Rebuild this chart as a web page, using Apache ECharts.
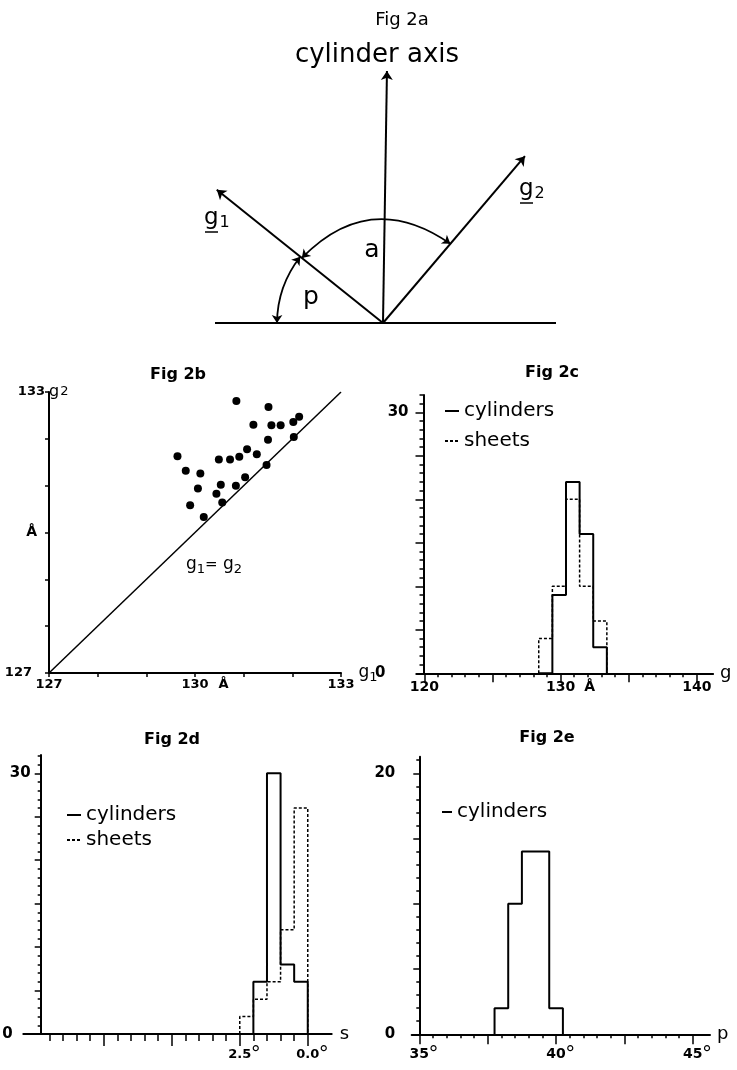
<!DOCTYPE html>
<html>
<head>
<meta charset="utf-8">
<title>Fig 2</title>
<script src="https://cdn.jsdelivr.net/npm/echarts@6.0.0/dist/echarts.min.js"></script>
<style>
html,body{margin:0;padding:0;background:#ffffff;}
#chart{width:737px;height:1070px;}
</style>
</head>
<body>
<div id="chart"></div>
<script>
// ================= DATA =================
// Fig 2b: repeat distances g1, g2 (Å), one point per structure
const g1Values = [130.85,131.51,131.20,131.57,131.76,132.02,132.14,132.03,131.50,131.07,131.27,130.91,130.72,130.49,129.64,129.81,130.11,130.06,129.90,130.18,130.44,130.53,130.56,130.84,131.03,131.47];
const g2Values = [132.81,132.68,132.30,132.29,132.29,132.36,132.47,132.04,131.98,131.78,131.67,131.62,131.56,131.56,131.63,131.32,131.26,130.94,130.58,130.33,130.83,131.02,130.64,131.00,131.18,131.44];
const fig2bRange = [127, 133];
const fig2bTicks = [127, 128, 129, 130, 131, 132, 133];
const fig2bTickLabels = [127, 130, 133];

// Fig 2c: histogram of g (Å)
const gBinEdges = [128.4, 129.4, 130.4, 131.4, 132.4, 133.4];
const gCylinderCounts = [0, 9, 22, 16, 3];
const gSheetCounts = [4, 10, 20, 10, 6];
const gMajorTicks = [120, 125, 130, 135, 140];
const gTickLabels = [120, 130, 140];
const gCountLabels = [0, 30];

// Fig 2d: histogram of s (degrees), axis runs right-to-left
const sBinEdges = [2.5, 2.0, 1.5, 1.0, 0.5, 0.0];
const sCylinderCounts = [0, 6, 30, 8, 6];
const sSheetCounts = [2, 4, 6, 12, 26];
const sMajorTicks = [0, 2.5, 5, 7.5];
const sTickLabels = [0, 2.5];
const sCountLabels = [0, 30];

// Fig 2e: histogram of p (degrees)
const pBinEdges = [37.75, 38.25, 38.75, 39.25, 39.75, 40.25];
const pCylinderCounts = [2, 10, 14, 14, 2];
const pMajorTicks = [35, 37.5, 40, 42.5, 45];
const pTickLabels = [35, 40, 45];
const pCountLabels = [0, 20];

// Fig 2a: schematic (angles in degrees measured from the base line)
const diagramAngles = { axis: 89.1, g1: 141.3, g2: 49.6 };
const diagramLengths = { axis: 252, g1: 213, g2: 219 };
const diagramArcRadius = { a: 104, p: 106 };
const diagramBaseline = [-168, 173];

// ================= HELPERS =================
const FONT = 'DejaVu Sans';
const K = '#000000';
function steps(a, b, step) {
  const r = [];
  for (let i = 0; a + i * step <= b + 1e-9; i++) r.push(+(a + i * step).toFixed(4));
  return r;
}
function stepData(edges, counts) {
  const d = [[edges[0], 0]];
  counts.forEach((c, i) => d.push([edges[i], c]));
  d.push([edges[edges.length - 1], 0]);
  return d;
}
function rs(size, extra) {
  return Object.assign({ fontFamily: FONT, fontSize: size, color: K }, extra || {});
}
function rb(size, extra) {
  return Object.assign({ fontFamily: FONT, fontSize: size, color: K, fontWeight: 'bold' }, extra || {});
}
function lab(size, extra) {
  return Object.assign({ fontFamily: FONT, fontSize: size, color: K, fontWeight: 'bold', richInheritPlainLabel: false }, extra || {});
}
const rad = d => d * Math.PI / 180;
const polar = (ang, r) => [r * Math.cos(rad(ang)), r * Math.sin(rad(ang))];

const gMinorTicks = steps(120, 140, 1);
const gCountMajor = steps(0, 30, 5);
const gCountMinor = steps(0, 32, 1);
const sMinorTicks = steps(0, 9.5, 0.5);
const sCountMajor = steps(0, 30, 5);
const sCountMinor = steps(0, 32, 1);
const pMinorTicks = steps(35, 45, 0.5);
const pCountMajor = steps(0, 20, 5);
const pCountMinor = steps(0, 21, 1);

const axisLineStyle = { color: K, width: 2 };
const tickStyle = { color: K, width: 1.5 };

function hiddenAxis(grid, min, max) {
  return { type: 'value', gridIndex: grid, min: min, max: max, show: false };
}
function minorX(grid, min, max, ticks, len, inverse) {
  return { type: 'value', gridIndex: grid, min: min, max: max, position: 'bottom', inverse: !!inverse,
    axisLine: { show: false, onZero: false },
    axisTick: { show: true, customValues: ticks, length: len, lineStyle: tickStyle },
    axisLabel: { show: false }, splitLine: { show: false } };
}
function minorY(grid, min, max, ticks, len, offset) {
  return { type: 'value', gridIndex: grid, min: min, max: max, position: 'left', offset: offset,
    axisLine: { show: false, onZero: false },
    axisTick: { show: true, customValues: ticks, length: len, lineStyle: tickStyle },
    axisLabel: { show: false }, splitLine: { show: false } };
}
const degreeLabel = (txt) => '{pad| }{n|' + txt + '}{d|°}';

// Diagram geometry built from the angle/length tables
const vectorLines = ['axis', 'g1', 'g2'].map(k => ({ coords: [[0, 0], polar(diagramAngles[k], diagramLengths[k])] }));
const arcLines = [
  { coords: [polar(diagramAngles.g1, diagramArcRadius.a), polar(diagramAngles.g2, diagramArcRadius.a)],
    lineStyle: { curveness: Math.tan(rad((diagramAngles.g1 - diagramAngles.g2) / 4)) } },
  { coords: [polar(180, diagramArcRadius.p), polar(diagramAngles.g1, diagramArcRadius.p)],
    lineStyle: { curveness: Math.tan(rad((180 - diagramAngles.g1) / 4)) } }
];

const legendCommon = { orient: 'vertical', padding: 0, itemWidth: 14, itemHeight: 10, selectedMode: false,
  itemStyle: { opacity: 0 }, textStyle: rs(20, { lineHeight: 20 }) };

// ================= CHART =================
const chart = echarts.init(document.getElementById('chart'), null, { renderer: 'canvas' });
const option = {
  backgroundColor: '#ffffff',
  animation: false,
  textStyle: { fontFamily: FONT, color: K },
  title: [
    { text: 'Fig 2a', left: 397, top: 6, textAlign: 'center', textStyle: rs(18, { fontWeight: 'normal' }) },
    { text: 'Fig 2b', left: 173, top: 362, textAlign: 'center', textStyle: rs(16, { fontWeight: 'bold' }) },
    { text: 'Fig 2c', left: 547, top: 360, textAlign: 'center', textStyle: rs(16, { fontWeight: 'bold' }) },
    { text: 'Fig 2d', left: 167, top: 727, textAlign: 'center', textStyle: rs(16, { fontWeight: 'bold' }) },
    { text: 'Fig 2e', left: 542, top: 725, textAlign: 'center', textStyle: rs(16, { fontWeight: 'bold' }) }
  ],
  legend: [
    Object.assign({}, legendCommon, { left: 444, top: 401, itemGap: 10, data: ['cylinders', 'sheets'] }),
    Object.assign({}, legendCommon, { left: 66, top: 805, itemGap: 5, data: ['cylinders', 'sheets'] }),
    Object.assign({}, legendCommon, { left: 441, top: 802, itemGap: 5, itemWidth: 10, data: ['cylinders'] })
  ],
  grid: [
    { left: 183, top: 23, width: 400, height: 300, outerBoundsMode: 'none' },
    { left: 49, top: 392, width: 292, height: 281, outerBoundsMode: 'none' },
    { left: 416.7, top: 394.9, width: 296.4, height: 278.4, outerBoundsMode: 'none' },
    { left: 23.3, top: 755, width: 308.4, height: 279, outerBoundsMode: 'none' },
    { left: 411.7, top: 756.7, width: 298.3, height: 277.6, outerBoundsMode: 'none' }
  ],
  xAxis: [
    hiddenAxis(0, -200, 200),
    { type: 'value', gridIndex: 1, min: fig2bRange[0], max: fig2bRange[1], position: 'bottom',
      axisLine: { onZero: false, lineStyle: axisLineStyle },
      axisTick: { customValues: fig2bTicks, length: 4, lineStyle: tickStyle },
      axisLabel: lab(13, { customValues: fig2bTickLabels, margin: 5,
        formatter: v => v === 130 ? '{pad| }{n|130}{a|Å}' : '{n|' + v + '}',
        rich: { n: rb(13), pad: rb(13, { width: 20 }), a: rb(13, { width: 20, align: 'right' }) } }),
      splitLine: { show: false },
      name: '{g|g}{s|1}', nameLocation: 'end', nameGap: 5,
      nameTextStyle: lab(17, { rich: { g: rs(17), s: rs(13, { padding: [10, 0, 0, 0] }) } }) },
    { type: 'value', gridIndex: 2, min: 119.44, max: 141.2, position: 'bottom',
      axisLine: { onZero: false, lineStyle: axisLineStyle },
      axisTick: { customValues: gMajorTicks, length: 9, lineStyle: tickStyle },
      axisLabel: lab(14, { customValues: gTickLabels, margin: 7,
        formatter: v => v === 130 ? '{pad| }{n|130}{a|Å}' : '{n|' + v + '}',
        rich: { n: rb(14), pad: rb(14, { width: 20 }), a: rb(14, { width: 20, align: 'right' }) } }),
      splitLine: { show: false },
      name: 'g', nameLocation: 'end', nameGap: 7, nameTextStyle: rs(18) },
    minorX(2, 119.44, 141.2, gMinorTicks, 4),
    { type: 'value', gridIndex: 3, min: -0.88, max: 10.46, inverse: true, position: 'bottom',
      axisLine: { onZero: false, lineStyle: axisLineStyle },
      axisTick: { customValues: sMajorTicks, length: 12, lineStyle: tickStyle },
      axisLabel: lab(13, { customValues: sTickLabels, margin: 11,
        formatter: v => degreeLabel(v.toFixed(1)),
        rich: { n: rb(13), pad: rb(13, { width: 9 }), d: rs(20, { width: 9 }) } }),
      splitLine: { show: false },
      name: 's', nameLocation: 'start', nameGap: 8, nameTextStyle: rs(18) },
    minorX(3, -0.88, 10.46, sMinorTicks, 7, true),
    { type: 'value', gridIndex: 4, min: 34.72, max: 45.63, position: 'bottom',
      axisLine: { onZero: false, lineStyle: axisLineStyle },
      axisTick: { customValues: pMajorTicks, length: 10, lineStyle: tickStyle },
      axisLabel: lab(14, { customValues: pTickLabels, margin: 10,
        formatter: v => degreeLabel(String(v)),
        rich: { n: rb(14), pad: rb(14, { width: 9 }), d: rs(20, { width: 9 }) } }),
      splitLine: { show: false },
      name: 'p', nameLocation: 'end', nameGap: 7, nameTextStyle: rs(18) },
    minorX(4, 34.72, 45.63, pMinorTicks, 4)
  ],
  yAxis: [
    hiddenAxis(0, 0, 300),
    { type: 'value', gridIndex: 1, min: fig2bRange[0], max: fig2bRange[1], position: 'left',
      axisLine: { onZero: false, lineStyle: axisLineStyle },
      axisTick: { customValues: fig2bTicks, length: 4, lineStyle: tickStyle },
      axisLabel: lab(13, { customValues: fig2bTickLabels, margin: 4,
        formatter: v => v === 127 ? '{a|127}' : (v === 130 ? '{b|Å}' : '{c|133}'),
        rich: { a: rb(13, { padding: [0, 13, 0, 0] }), b: rb(14, { padding: [0, 8, 0, 0] }), c: rb(13) } }),
      splitLine: { show: false },
      name: '{g|g}{s|2}', nameLocation: 'end', nameGap: 0,
      nameTextStyle: lab(15, { align: 'left', verticalAlign: 'middle', rich: { g: rs(16), s: rs(13, { padding: [0, 0, 0, 1] }) } }) },
    { type: 'value', gridIndex: 2, min: 0, max: 32, position: 'left', offset: -6.8,
      axisLine: { onZero: false, lineStyle: axisLineStyle },
      axisTick: { customValues: gCountMajor, length: 8, lineStyle: tickStyle },
      axisLabel: lab(15, { customValues: gCountLabels, margin: 15,
        formatter: v => v === 0 ? '{z|0}' : '{n|' + v + '}',
        rich: { n: rb(15), z: rb(15, { padding: [0, 23, 0, 0] }) } }),
      splitLine: { show: false } },
    minorY(2, 0, 32, gCountMinor, 4, -6.8),
    { type: 'value', gridIndex: 3, min: 0, max: 32.1, position: 'left', offset: -17.4,
      axisLine: { onZero: false, lineStyle: axisLineStyle },
      axisTick: { customValues: sCountMajor, length: 6, lineStyle: tickStyle },
      axisLabel: lab(15, { customValues: sCountLabels, margin: 10,
        formatter: v => v === 0 ? '{z|0}' : '{n|' + v + '}',
        rich: { n: rb(15), z: rb(15, { padding: [0, 18, 0, 0] }) } }),
      splitLine: { show: false } },
    minorY(3, 0, 32.1, sCountMinor, 3, -17.4),
    { type: 'value', gridIndex: 4, min: 0, max: 21.27, position: 'left', offset: -7.6,
      axisLine: { onZero: false, lineStyle: axisLineStyle },
      axisTick: { customValues: pCountMajor, length: 6, lineStyle: tickStyle },
      axisLabel: lab(15, { customValues: pCountLabels, margin: 24,
        formatter: v => '{n|' + v + '}',
        rich: { n: rb(15) } }),
      splitLine: { show: false } },
    minorY(4, 0, 21.27, pCountMinor, 3, -7.6)
  ],
  series: [
    // Fig 2a schematic
    { type: 'lines', coordinateSystem: 'cartesian2d', xAxisIndex: 0, yAxisIndex: 0, symbol: ['none', 'none'],
      lineStyle: { color: K, width: 1.8, opacity: 1 },
      data: [{ coords: [[diagramBaseline[0], 0], [diagramBaseline[1], 0]] }] },
    { type: 'lines', coordinateSystem: 'cartesian2d', xAxisIndex: 0, yAxisIndex: 0,
      symbol: ['none', 'arrow'], symbolSize: 9,
      lineStyle: { color: K, width: 2, opacity: 1 }, data: vectorLines },
    { type: 'lines', coordinateSystem: 'cartesian2d', xAxisIndex: 0, yAxisIndex: 0,
      symbol: ['arrow', 'arrow'], symbolSize: 8,
      lineStyle: { color: K, width: 1.8, opacity: 1 }, data: arcLines },
    // Fig 2b
    { type: 'line', xAxisIndex: 1, yAxisIndex: 1, showSymbol: false, symbol: 'none',
      lineStyle: { color: K, width: 1.5 }, data: [[fig2bRange[0], fig2bRange[0]], [fig2bRange[1], fig2bRange[1]]] },
    { type: 'scatter', xAxisIndex: 1, yAxisIndex: 1, symbolSize: 8, itemStyle: { color: K, opacity: 1 },
      data: g1Values.map((g, i) => [g, g2Values[i]]) },
    // Fig 2c
    { name: 'sheets', type: 'line', xAxisIndex: 2, yAxisIndex: 2, step: 'end', symbol: 'none', showSymbol: false,
      itemStyle: { color: K }, lineStyle: { color: K, width: 1.5, type: [3, 2] }, data: stepData(gBinEdges, gSheetCounts) },
    { name: 'cylinders', type: 'line', xAxisIndex: 2, yAxisIndex: 2, step: 'end', symbol: 'none', showSymbol: false,
      itemStyle: { color: K }, lineStyle: { color: K, width: 2 }, data: stepData(gBinEdges, gCylinderCounts) },
    // Fig 2d
    { name: 'sheets', type: 'line', xAxisIndex: 4, yAxisIndex: 4, step: 'end', symbol: 'none', showSymbol: false,
      itemStyle: { color: K }, lineStyle: { color: K, width: 1.5, type: [3, 2] }, data: stepData(sBinEdges, sSheetCounts) },
    { name: 'cylinders', type: 'line', xAxisIndex: 4, yAxisIndex: 4, step: 'end', symbol: 'none', showSymbol: false,
      itemStyle: { color: K }, lineStyle: { color: K, width: 2 }, data: stepData(sBinEdges, sCylinderCounts) },
    // Fig 2e
    { name: 'cylinders', type: 'line', xAxisIndex: 6, yAxisIndex: 6, step: 'end', symbol: 'none', showSymbol: false,
      itemStyle: { color: K }, lineStyle: { color: K, width: 2 }, data: stepData(pBinEdges, pCylinderCounts) }
  ],
  graphic: [
    { type: 'text', x: 377, y: 55, style: { text: 'cylinder axis', font: '26px "DejaVu Sans"', fill: K, align: 'center', verticalAlign: 'middle' } },
    { type: 'text', x: 372, y: 250, style: { text: 'a', font: '25px "DejaVu Sans"', fill: K, align: 'center', verticalAlign: 'middle' } },
    { type: 'text', x: 311, y: 297, style: { text: 'p', font: '25px "DejaVu Sans"', fill: K, align: 'center', verticalAlign: 'middle' } },
    { type: 'text', x: 204, y: 218, style: { text: '{g|g}{s|1}', fill: K, align: 'left', verticalAlign: 'middle',
      rich: { g: { fontFamily: FONT, fontSize: 23, fill: K }, s: { fontFamily: FONT, fontSize: 16, fill: K, padding: [10, 0, 0, 1] } } } },
    { type: 'line', shape: { x1: 205, y1: 232, x2: 218, y2: 232 }, style: { stroke: K, lineWidth: 1.5 } },
    { type: 'text', x: 519, y: 189, style: { text: '{g|g}{s|2}', fill: K, align: 'left', verticalAlign: 'middle',
      rich: { g: { fontFamily: FONT, fontSize: 23, fill: K }, s: { fontFamily: FONT, fontSize: 16, fill: K, padding: [10, 0, 0, 1] } } } },
    { type: 'line', shape: { x1: 520, y1: 203, x2: 533, y2: 203 }, style: { stroke: K, lineWidth: 1.5 } },
    { type: 'text', x: 186, y: 565, style: { text: '{g|g}{s|1}{e|=}{g| g}{s|2}', fill: K, align: 'left', verticalAlign: 'middle',
      rich: { g: { fontFamily: FONT, fontSize: 17, fill: K }, s: { fontFamily: FONT, fontSize: 13, fill: K, padding: [9, 0, 0, 0] },
              e: { fontFamily: FONT, fontSize: 15, fill: K } } } }
  ]
};
chart.setOption(option);
</script>
</body>
</html>
